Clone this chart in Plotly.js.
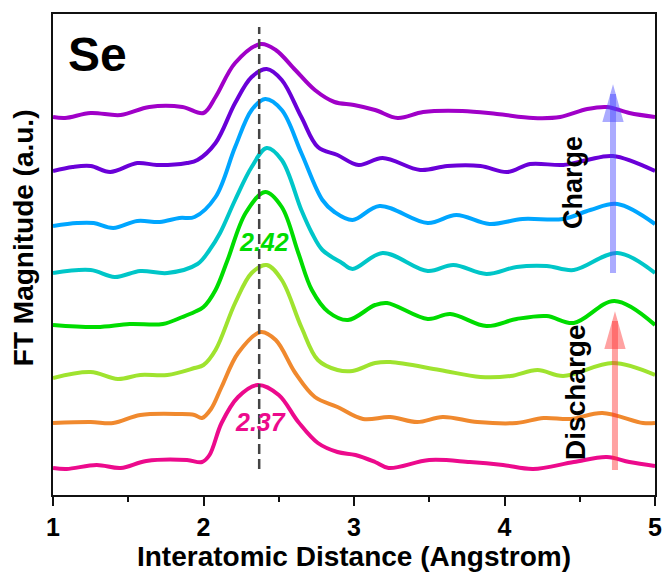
<!DOCTYPE html>
<html>
<head>
<meta charset="utf-8">
<script src="https://cdn.plot.ly/plotly-3.0.1.min.js"></script>
<style>html,body{margin:0;padding:0;background:#fff;}#chart{width:664px;height:572px;}</style>
</head>
<body>
<div id="chart"></div>
<script>
// Stacked FT-EXAFS curves (offset a.u.), bottom to top
const xPink = [1.00,1.09,1.29,1.45,1.62,1.89,1.99,2.04,2.12,2.23,2.36,2.50,2.63,2.76,2.89,3.01,3.14,3.23,3.50,3.77,3.99,4.19,4.46,4.68,4.83,5.00];
const yPink = [27,26,30,27,34,35,33,40,72,98,110,100,73,52,43,40,33,27,35,33,30,26,33,38,33,29];

const xOrange = [1.00,1.25,1.40,1.58,1.84,1.94,1.99,2.05,2.12,2.23,2.38,2.48,2.61,2.74,2.89,3.06,3.24,3.42,3.59,3.82,4.08,4.26,4.44,4.65,4.92,5.00];
const yOrange = [72,73,72,80,81,80,77,86,108,142,163,155,122,98,88,76,78,73,78,73,72,77,76,82,72,72];

const xLime = [1.00,1.25,1.43,1.58,1.76,1.94,2.00,2.08,2.21,2.32,2.42,2.52,2.65,2.76,2.89,2.99,3.14,3.24,3.57,3.84,4.04,4.22,4.39,4.72,5.00];
const yLime = [117,123,116,120,120,127,130,145,192,222,230,215,168,135,125,124,132,133,125,118,119,125,119,132,120];

const xGreen = [1.00,1.29,1.51,1.73,1.86,1.94,2.00,2.08,2.16,2.28,2.41,2.52,2.63,2.72,2.83,2.96,3.14,3.22,3.49,3.64,3.88,4.08,4.28,4.46,4.73,5.00];
const yGreen = [170,168,171,171,178,183,188,205,235,282,303,288,242,205,183,175,190,192,176,181,169,176,179,172,194,170];

const xCyan = [1.00,1.25,1.41,1.58,1.76,1.96,2.04,2.11,2.21,2.32,2.42,2.52,2.65,2.72,2.79,2.92,2.99,3.19,3.49,3.66,3.88,4.08,4.28,4.46,4.75,5.00];
const yCyan = [222,225,218,224,222,231,245,262,295,328,347,335,285,262,245,232,226,242,224,230,221,228,229,225,242,222];

const xSky = [1.00,1.16,1.27,1.40,1.56,1.71,1.84,1.94,2.08,2.21,2.32,2.41,2.52,2.65,2.79,2.87,2.99,3.17,3.49,3.68,3.90,4.12,4.39,4.57,4.75,5.00];
const ySky = [269,272,272,267,274,273,277,278,298,348,385,396,385,342,295,283,275,289,272,280,271,276,276,285,291,271];

const xViolet = [1.00,1.13,1.25,1.38,1.56,1.69,1.89,1.96,2.08,2.21,2.32,2.42,2.52,2.65,2.76,2.89,3.03,3.19,3.44,3.62,3.84,4.02,4.17,4.39,4.55,4.72,5.00];
const yViolet = [324,328,329,323,332,330,332,335,352,392,418,426,415,378,348,340,330,337,325,329,329,323,331,330,335,339,324];

const xPurple = [1.00,1.08,1.25,1.45,1.64,1.86,2.00,2.08,2.21,2.38,2.48,2.61,2.74,2.87,3.00,3.14,3.29,3.46,3.72,3.95,4.19,4.37,4.55,4.68,4.83,5.00];
const yPurple = [378,377,382,380,388,388,382,398,432,451,445,425,405,393,390,385,377,383,384,381,377,378,386,388,382,378];

const seriesX = [xPink, xOrange, xLime, xGreen, xCyan, xSky, xViolet, xPurple];
const seriesY = [yPink, yOrange, yLime, yGreen, yCyan, ySky, yViolet, yPurple];
const seriesColors = ['#ec0a8c','#f0892e','#9fe32f','#00dc00','#00c6c8','#00a6ff','#6a00d8','#a000c8'];

const xTickVals = [1,2,3,4,5];
const xTickText = ['1','2','3','4','5'];

const peakLabels = ['2.37','2.42'];
const peakLabelX = [2.382, 2.402];
const peakLabelY = [73, 253];
const peakLineX = 2.37;

const traces = seriesX.map((xs, i) => ({
  x: xs, y: seriesY[i], type: 'scatter', mode: 'lines',
  line: {color: seriesColors[i], width: 4, shape: 'spline', smoothing: 1},
  hoverinfo: 'skip', showlegend: false
}));

const F = 'Arial, "Liberation Sans", sans-serif';

// arrows: [x, tailY, tipY, color]
const arrows = [
  [4.721, 222, 407, 'rgb(70,70,255)'],
  [4.734, 25, 180, 'rgb(255,50,50)']
];
const shapes = [
  {type:'line', xref:'x', yref:'y', x0:peakLineX, x1:peakLineX, y0:26, y1:468,
   line:{color:'#444', width:2.5, dash:'10px,5px'}}
];
arrows.forEach(a => {
  const [x, t, h, c] = a;
  shapes.push({type:'line', xref:'x', yref:'y', x0:x, x1:x, y0:t, y1:h-6, line:{color:c, width:6}, opacity:0.45});
  const hw = 0.062, hl = 33;
  shapes.push({type:'path', xref:'x', yref:'y',
    path:`M${x},${h} L${x-hw},${h-hl} L${x+hw},${h-hl} Z`,
    fillcolor:c, line:{color:c, width:2}, opacity:0.45});
});

const annotations = [
  {xref:'paper', yref:'paper', x:0.022, y:0.915, xanchor:'left', yanchor:'middle',
   text:'<b>Se</b>', showarrow:false, font:{family:F, size:48, color:'#000'}},
  {xref:'paper', yref:'paper', x:-0.049, y:0.535, xanchor:'center', yanchor:'middle', textangle:-90,
   text:'<b>FT Magnitude (a.u.)</b>', showarrow:false, font:{family:F, size:28, color:'#000'}},
  {xref:'x', yref:'y', x:4.455, y:313, text:'<b>Charge</b>', textangle:-90, showarrow:false,
   font:{family:F, size:27, color:'#000'}},
  {xref:'x', yref:'y', x:4.468, y:103, text:'<b>Discharge</b>', textangle:-90, showarrow:false,
   font:{family:F, size:28, color:'#000'}}
];
peakLabels.forEach((t, i) => annotations.push({
  xref:'x', yref:'y', x:peakLabelX[i], y:peakLabelY[i], text:'<b><i>'+t+'</i></b>', showarrow:false,
  font:{family:F, size:25, color: i===0 ? seriesColors[0] : seriesColors[3]}
}));

const layout = {
  width:664, height:572,
  margin:{l:53, r:9, t:14, b:77},
  paper_bgcolor:'#fff', plot_bgcolor:'#fff',
  showlegend:false,
  xaxis:{range:[1,5], showline:true, linecolor:'#111', linewidth:2, mirror:true,
    showgrid:false, zeroline:false, ticks:'outside', ticklen:9, tickwidth:2, tickcolor:'#111',
    tickvals:xTickVals, ticktext:xTickText.map(t => '<b>'+t+'</b>'),
    minor:{dtick:0.5, ticks:'outside', ticklen:5, tickwidth:2, tickcolor:'#111', showgrid:false},
    tickfont:{family:F, size:25, color:'#000', weight:'bold'},
    title:{text:'<b>Interatomic Distance (Angstrom)</b>', font:{family:F, size:28, color:'#000'}, standoff:0}},
  yaxis:{range:[0,481], showline:true, linecolor:'#111', linewidth:2, mirror:true,
    showgrid:false, zeroline:false, ticks:'', showticklabels:false},
  shapes:shapes,
  annotations:annotations
};

Plotly.newPlot('chart', traces, layout, {displayModeBar:false, staticPlot:true});
</script>
</body>
</html>
